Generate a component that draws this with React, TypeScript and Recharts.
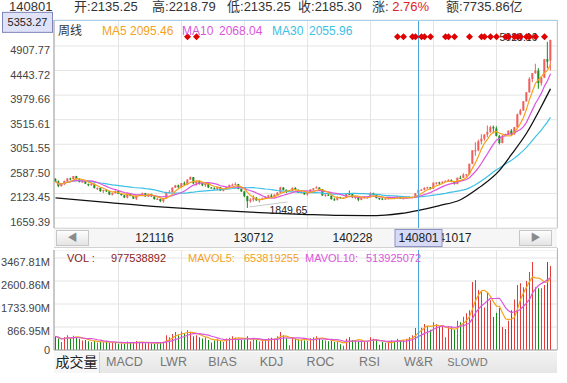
import React from "react";
import {
  ComposedChart,
  Bar,
  Line,
  XAxis,
  YAxis,
  CartesianGrid,
  ReferenceLine,
  ReferenceDot,
  Cell,
} from "recharts";

const FONT = "Arial, 'Liberation Sans', 'Noto Sans CJK SC', sans-serif";

// weekly bars, yymmdd
const dates = [
  "120323", "120330", "120406", "120413", "120420", "120427", "120504", "120511", "120518", "120525",
  "120601", "120608", "120615", "120621", "120629", "120706", "120713", "120720", "120727", "120803",
  "120810", "120817", "120824", "120831", "120907", "120914", "120921", "120928", "121012", "121019",
  "121026", "121102", "121109", "121116", "121123", "121130", "121207", "121214", "121221", "121228",
  "130104", "130111", "130118", "130125", "130201", "130208", "130222", "130301", "130308", "130315",
  "130322", "130329", "130403", "130412", "130419", "130426", "130503", "130510", "130517", "130524",
  "130531", "130607", "130614", "130621", "130628", "130705", "130712", "130719", "130726", "130802",
  "130809", "130816", "130823", "130830", "130906", "130913", "130918", "130927", "130930", "131011",
  "131018", "131025", "131101", "131108", "131115", "131122", "131129", "131206", "131213", "131220",
  "131227", "140103", "140110", "140117", "140124", "140130", "140207", "140214", "140221", "140228",
  "140307", "140314", "140321", "140328", "140404", "140411", "140418", "140425", "140430", "140509",
  "140516", "140523", "140530", "140606", "140613", "140620", "140627", "140704", "140711", "140718",
  "140725", "140801", "140808", "140815", "140822", "140829", "140905", "140912", "140919", "140926",
  "140930", "141010", "141017", "141024", "141031", "141107", "141114", "141121", "141128", "141205",
  "141212", "141219", "141226", "141231", "150109", "150116", "150123", "150130", "150206", "150213",
  "150217", "150227", "150306", "150313", "150320", "150327", "150403", "150410", "150417", "150424",
  "150430", "150508", "150515", "150522", "150529", "150605",
];

const opens = [
  2400, 2350, 2260, 2300, 2358, 2405, 2396, 2450, 2390, 2342,
  2350, 2300, 2280, 2305, 2222, 2226, 2165, 2184, 2165, 2100,
  2130, 2168, 2112, 2090, 2045, 2125, 2073, 2025, 2087, 2103,
  2127, 2066, 2115, 2068, 2012, 2018, 1978, 2032, 2150, 2150,
  2232, 2275, 2242, 2316, 2290, 2385, 2432, 2312, 2357, 2317,
  2278, 2327, 2235, 2223, 2205, 2244, 2176, 2205, 2245, 2281,
  2288, 2299, 2208, 2161, 2072, 1977, 2005, 2038, 1990, 2008,
  2028, 2051, 2083, 2056, 2096, 2138, 2235, 2190, 2160, 2173,
  2227, 2192, 2132, 2148, 2105, 2134, 2195, 2218, 2236, 2203,
  2083, 2100, 2082, 2012, 2003, 2053, 2033, 2043, 2114, 2112,
  2055, 2056, 2003, 2046, 2045, 2057, 2129, 2097, 2035, 2025,
  2010, 2025, 2033, 2038, 2028, 2069, 2023, 2035, 2058, 2046,
  2058, 2135.25, 2184, 2193, 2225, 2239, 2216, 2325, 2330, 2328,
  2346, 2363, 2373, 2340, 2301, 2419, 2417, 2477, 2486, 2682,
  2937, 2938, 3107, 3156, 3234, 3284, 3375, 3350, 3209, 3075,
  3203, 3246, 3309, 3241, 3372, 3616, 3690, 3863, 4033, 4286,
  4393, 4441, 4205, 4307, 4658, 4633,
];

const highs = [
  2410, 2370, 2310, 2365, 2410, 2422, 2453, 2456, 2400, 2370,
  2370, 2310, 2318, 2310, 2240, 2240, 2195, 2200, 2170, 2140,
  2180, 2175, 2120, 2095, 2140, 2130, 2080, 2090, 2112, 2140,
  2135, 2120, 2118, 2072, 2045, 2025, 2040, 2155, 2185, 2240,
  2285, 2290, 2320, 2350, 2390, 2444, 2435, 2370, 2370, 2325,
  2335, 2333, 2245, 2240, 2250, 2248, 2210, 2252, 2290, 2310,
  2334, 2305, 2215, 2165, 2080, 2035, 2092, 2058, 2025, 2045,
  2070, 2098, 2115, 2110, 2150, 2250, 2242, 2200, 2176, 2240,
  2242, 2198, 2163, 2155, 2140, 2205, 2225, 2260, 2240, 2205,
  2110, 2118, 2088, 2040, 2070, 2060, 2048, 2120, 2178, 2115,
  2075, 2068, 2050, 2070, 2062, 2146, 2138, 2100, 2040, 2035,
  2055, 2040, 2045, 2045, 2075, 2072, 2040, 2062, 2070, 2064,
  2130, 2218.79, 2210, 2240, 2248, 2242, 2330, 2335, 2345, 2350,
  2365, 2392, 2391, 2345, 2422, 2458, 2505, 2490, 2685, 2938,
  3091, 3139, 3239, 3240, 3406, 3400, 3406, 3390, 3229, 3230,
  3250, 3312, 3338, 3380, 3632, 3719, 3866, 4034, 4317, 4400,
  4572, 4489, 4330, 4658, 4986, 5023.1,
];

const lows = [
  2340, 2242, 2255, 2280, 2330, 2370, 2390, 2386, 2330, 2320,
  2300, 2260, 2270, 2220, 2186, 2150, 2132, 2150, 2092, 2086,
  2120, 2110, 2081, 2039, 2029, 2070, 2020, 2001, 2075, 2095,
  2060, 2055, 2060, 2010, 2003, 1959, 1949, 2025, 2130, 2140,
  2225, 2220, 2230, 2280, 2280, 2380, 2300, 2270, 2290, 2260,
  2245, 2225, 2220, 2196, 2181, 2170, 2162, 2200, 2240, 2270,
  2280, 2200, 2150, 2050, 1849.65, 1950, 1970, 1985, 1951, 2000,
  2020, 2045, 2050, 2040, 2090, 2130, 2180, 2132, 2150, 2170,
  2185, 2130, 2120, 2096, 2080, 2130, 2180, 2215, 2195, 2080,
  2060, 2075, 2010, 1985, 1990, 2025, 2030, 2040, 2105, 2035,
  2015, 1975, 1995, 2035, 2020, 2050, 2090, 2030, 2000, 1997,
  2005, 2010, 2020, 2015, 2025, 2020, 2010, 2030, 2040, 2035,
  2055, 2135.25, 2170, 2180, 2210, 2195, 2210, 2290, 2280, 2300,
  2340, 2350, 2335, 2290, 2295, 2395, 2415, 2430, 2480, 2675,
  2835, 2920, 3050, 3118, 3185, 3266, 3260, 3200, 3049, 3070,
  3195, 3225, 3213, 3230, 3365, 3600, 3680, 3855, 4025, 4225,
  4383, 4099, 4160, 4305, 4483, 4445,
];

const closes = [
  2349, 2262, 2302, 2359, 2406, 2396, 2452, 2394, 2344, 2350,
  2309, 2281, 2306, 2224, 2225, 2170, 2185, 2168, 2103, 2132,
  2168, 2115, 2092, 2047, 2127, 2075, 2026, 2086, 2104, 2128,
  2067, 2117, 2069, 2014, 2020, 1980, 2033, 2150, 2153, 2233,
  2276, 2243, 2317, 2291, 2385, 2433, 2314, 2359, 2318, 2278,
  2328, 2236, 2225, 2206, 2245, 2177, 2205, 2246, 2282, 2288,
  2300, 2210, 2162, 2073, 1979, 2007, 2039, 1992, 2010, 2029,
  2052, 2085, 2057, 2098, 2139, 2236, 2191, 2160, 2174, 2228,
  2193, 2133, 2149, 2106, 2135, 2196, 2220, 2237, 2204, 2084,
  2101, 2083, 2013, 2004, 2054, 2033, 2044, 2115, 2113, 2056,
  2057, 2004, 2047, 2046, 2058, 2130, 2098, 2036, 2026, 2011,
  2026, 2034, 2039, 2029, 2070, 2024, 2036, 2059, 2047, 2059,
  2126.6, 2185.3, 2194, 2226, 2240, 2217, 2326, 2331, 2329, 2347,
  2364, 2374, 2341, 2302, 2420, 2418, 2478, 2487, 2683, 2938,
  2938, 3108, 3157, 3235, 3285, 3376, 3351, 3210, 3076, 3204,
  3247, 3310, 3242, 3373, 3617, 3691, 3864, 4034, 4287, 4394,
  4442, 4206, 4308, 4658, 4611, 5023.1,
];

// volume, millions
const volumes = [
  520, 430, 300, 480, 560, 450, 540, 460, 420, 360,
  380, 330, 300, 340, 280, 310, 290, 320, 260, 280,
  300, 240, 250, 230, 320, 300, 260, 340, 270, 300,
  250, 270, 250, 240, 280, 300, 310, 560, 480, 600,
  680, 560, 700, 620, 740, 690, 520, 560, 480, 430,
  470, 380, 280, 360, 420, 340, 300, 430, 460, 520,
  470, 420, 380, 400, 520, 330, 420, 380, 320, 360,
  380, 440, 460, 420, 520, 680, 560, 440, 180, 480,
  420, 400, 380, 360, 340, 440, 480, 520, 420, 380,
  360, 330, 360, 300, 320, 220, 160, 420, 480, 380,
  360, 340, 300, 320, 330, 480, 420, 380, 200, 300,
  260, 280, 360, 330, 420, 380, 380, 420, 480, 560,
  830, 977.538892, 840, 980, 900, 760, 1050, 980, 880, 920,
  480, 900, 860, 760, 1100, 1050, 1250, 1390, 1500, 2560,
  2640, 2260, 2200, 1600, 2150, 1880, 1240, 1400, 1580, 870,
  790, 1100, 1500, 1900, 2450, 2520, 2370, 2600, 2940, 3320,
  2370, 2330, 2330, 2450, 3320, 3170,
];

// black fitted curve, read at a few bars
const trendIdx = [0, 18, 35, 48, 65, 84, 95, 104, 110, 115, 121, 128, 135, 141, 148, 152, 157, 163, 165];
const trendVal = [2040, 1950, 1870, 1822, 1770, 1725, 1708, 1705, 1715, 1745, 1805, 1895, 2005, 2225, 2560, 2860, 3260, 3880, 4100];

// red diamond signals
const signalIdx = [44, 47, 114, 116, 119, 120, 122, 123, 125, 130, 131, 133, 138, 142, 143, 145, 147, 150, 151, 153, 154, 155, 157, 158, 160, 163];
const signalLevel = 5080;

const priceTicks = [1659.39, 2123.45, 2587.5, 3051.55, 3515.61, 3979.66, 4443.72, 4907.77];
const priceTop = 5353.27;
const priceDomain = [1471, 5398];
const volTicks = [0, 866.95, 1733.9, 2600.86, 3467.81];
const volDomain = [0, 3770];
const gridIdx = [21, 42, 63, 84, 105, 126, 147];
const navTicks = ["121116", "130712", "140228", "141017", "140801"];
const tabs = ["成交量", "MACD", "LWR", "BIAS", "KDJ", "ROC", "RSI", "W&R", "SLOWD"];

const activeDate = "140801";
const activeIdx = dates.indexOf(activeDate);
const turnover = "7735.86亿";
const maLegend = ["2095.46", "2068.04", "2055.96"];
const volLegend = ["653819255", "513925072"];

const UP = "#ef5f5f";
const DOWN = "#1f8a1f";
const C_MA5 = "#f5a21b";
const C_MA10 = "#dc55dc";
const C_MA30 = "#3cc0e4";
const C_CROSS = "#4aa6d6";

function movingAvg(src: number[], n: number) {
  return src.map((_, i) => {
    const from = Math.max(0, i - n + 1);
    let s = 0;
    for (let k = from; k <= i; k++) s += src[k];
    return s / (i - from + 1);
  });
}

const ma5 = movingAvg(closes, 5);
const ma10 = movingAvg(closes, 10);
const ma30 = movingAvg(closes, 30);
const mavol5 = movingAvg(volumes, 5);
const mavol10 = movingAvg(volumes, 10);

const rows = dates.map((d, i) => {
  const t = trendIdx.indexOf(i);
  return {
    date: d,
    open: opens[i],
    high: highs[i],
    low: lows[i],
    close: closes[i],
    range: [lows[i], highs[i]],
    ma5: ma5[i],
    ma10: ma10[i],
    ma30: ma30[i],
    trend: t >= 0 ? trendVal[t] : null,
    sig: signalIdx.includes(i) ? signalLevel : null,
    vol: volumes[i],
    mavol5: mavol5[i],
    mavol10: mavol10[i],
  };
});

const gridDates = gridIdx.map((i) => dates[i]);

let minIdx = 0;
let maxIdx = 0;
lows.forEach((v, i) => { if (v < lows[minIdx]) minIdx = i; });
highs.forEach((v, i) => { if (v > highs[maxIdx]) maxIdx = i; });

function Candle(props: any) {
  const { x, y, width, height, payload } = props;
  if (!payload) return null;
  const { open, close, high, low } = payload;
  const top = Math.min(y, y + height);
  const h = Math.abs(height);
  const ratio = high > low ? h / (high - low) : 0;
  const cx = x + width / 2;
  const yO = top + (high - open) * ratio;
  const yC = top + (high - close) * ratio;
  const color = close >= open ? UP : DOWN;
  return (
    <g>
      <line x1={cx} x2={cx} y1={top} y2={top + h} stroke={color} strokeWidth={1} />
      <rect x={cx - 1} y={Math.min(yO, yC)} width={2} height={Math.max(1, Math.abs(yO - yC))} fill={color} />
    </g>
  );
}

function Diamond(props: any) {
  const { cx, cy, payload } = props;
  if (!payload || payload.sig == null || cx == null || cy == null || isNaN(cy)) return <g />;
  const r = 3.5;
  return <path d={`M${cx},${cy - r}L${cx + r},${cy}L${cx},${cy + r}L${cx - r},${cy}Z`} fill="#e00000" />;
}

function PriceTick(props: any) {
  const { x, y, payload } = props;
  const v = payload.value as number;
  if (v === priceTop) {
    return (
      <g>
        <rect x={2.5} y={y - 10} width={50} height={20} fill="#e0e2f7" stroke="#7f86b8" />
        <text x={27.5} y={y + 4} textAnchor="middle" fontSize={11} fill="#222" fontFamily={FONT}>
          {v.toFixed(2)}
        </text>
      </g>
    );
  }
  return (
    <text x={x} y={y + 8} textAnchor="end" fontSize={11} fill="#444" fontFamily={FONT}>
      {v.toFixed(2)}
    </text>
  );
}

function VolTick(props: any) {
  const { x, y, payload } = props;
  const v = payload.value as number;
  return (
    <text x={x} y={v === 0 ? y + 4 : y + 8} textAnchor="end" fontSize={11} fill="#444" fontFamily={FONT}>
      {v === 0 ? "0" : v.toFixed(2) + "M"}
    </text>
  );
}

function NavTick(props: any) {
  const { x, y, payload } = props;
  const v = String(payload.value);
  const on = v === activeDate;
  return (
    <g>
      {on && <rect x={x - 23.5} y={y + 1.5} width={47} height={17} fill="#d7daf6" stroke="#8e94c4" />}
      <text x={x} y={y + 14} textAnchor="middle" fontSize={12} fill="#222" fontFamily={FONT}>
        {v}
      </text>
    </g>
  );
}

const abs = (left: number, top: number, extra: React.CSSProperties = {}): React.CSSProperties => ({
  position: "absolute",
  left,
  top,
  whiteSpace: "nowrap",
  ...extra,
});

function Header() {
  const items = [
    { label: "开", value: opens[activeIdx].toFixed(2), left: 74 },
    { label: "高", value: highs[activeIdx].toFixed(2), left: 152 },
    { label: "低", value: lows[activeIdx].toFixed(2), left: 227 },
    { label: "收", value: closes[activeIdx].toFixed(2), left: 298 },
  ];
  const pct = ((closes[activeIdx] / closes[activeIdx - 1] - 1) * 100).toFixed(2) + "%";
  const s: React.CSSProperties = { fontSize: 13, lineHeight: "16px", color: "#333" };
  return (
    <>
      <div style={abs(9, -1, s)}>{activeDate}</div>
      {items.map((it) => (
        <div key={it.label} style={abs(it.left, -1, s)}>
          {it.label}:{it.value}
        </div>
      ))}
      <div style={abs(372, -1, s)}>
        涨: <span style={{ color: "#e02424" }}>{pct}</span>
      </div>
      <div style={abs(446, -1, s)}>额:{turnover}</div>
    </>
  );
}

export default function App() {
  const legendStyle: React.CSSProperties = { fontSize: 12, lineHeight: "14px" };
  const volStyle: React.CSSProperties = { fontSize: 11, lineHeight: "13px" };
  return (
    <div
      style={{
        position: "absolute",
        left: 0,
        top: 0,
        width: 567,
        height: 383,
        overflow: "hidden",
        background: "#fff",
        fontFamily: FONT,
      }}
    >
      <Header />

      {/* scrollbar strip */}
      <div
        style={abs(54, 228, {
          width: 503,
          height: 18,
          background: "#f6f6f6",
          borderTop: "1px solid #d2d2d2",
          borderBottom: "1px solid #d2d2d2",
        })}
      />
      {[56, 519].map((l, k) => (
        <div
          key={l}
          style={abs(l, 230, {
            width: 31,
            height: 14,
            background: "linear-gradient(#fdfdfd, #e4e4e4)",
            border: "1px solid #c6c6c6",
            color: "#8a8a8a",
            fontSize: 10,
            lineHeight: "14px",
            textAlign: "center",
          })}
        >
          {k === 0 ? "◀" : "▶"}
        </div>
      ))}

      <div style={abs(0, 0)}>
        <ComposedChart
          width={567}
          height={250}
          data={rows}
          margin={{ top: 20, right: 10, bottom: 0, left: 0 }}
          barCategoryGap={0}
        >
          <CartesianGrid stroke="#e4e4e4" xAxisId="grid" yAxisId="grid" />
          <XAxis
            xAxisId="grid"
            dataKey="date"
            hide
            padding={{ left: 0, right: 5 }}
            ticks={gridDates}
            interval={0}
          />
          <YAxis yAxisId="grid" hide domain={priceDomain} allowDataOverflow ticks={priceTicks} interval={0} />
          <XAxis
            dataKey="date"
            padding={{ left: 0, right: 5 }}
            ticks={navTicks}
            interval={0}
            height={22}
            tickSize={0}
            tickMargin={0}
            axisLine={false}
            tickLine={false}
            tick={<NavTick />}
          />
          <YAxis
            width={54}
            domain={priceDomain}
            allowDataOverflow
            ticks={[...priceTicks, priceTop]}
            interval={0}
            tick={<PriceTick />}
            tickSize={0}
            tickMargin={4}
            tickLine={false}
            axisLine={{ stroke: "#a0a0a0" }}
          />
          <Bar dataKey="range" barSize={3} shape={<Candle />} isAnimationActive={false} />
          <Line dataKey="ma30" stroke={C_MA30} strokeWidth={1.2} dot={false} isAnimationActive={false} />
          <Line dataKey="ma10" stroke={C_MA10} strokeWidth={1.2} dot={false} isAnimationActive={false} />
          <Line dataKey="ma5" stroke={C_MA5} strokeWidth={1.2} dot={false} isAnimationActive={false} />
          <Line
            dataKey="trend"
            type="monotone"
            connectNulls
            stroke="#111"
            strokeWidth={1.3}
            dot={false}
            isAnimationActive={false}
          />
          <ReferenceLine x={activeDate} stroke={C_CROSS} strokeWidth={1} />
          <ReferenceDot
            x={dates[minIdx]}
            y={lows[minIdx]}
            r={1}
            shape={(p: any) => (
              <g>
                <line x1={p.cx + 2} y1={p.cy - 1} x2={p.cx + 40} y2={p.cy - 6} stroke="#c8c8c8" />
                <text x={p.cx + 22} y={p.cy + 6} fontSize={10.5} fill="#222" fontFamily={FONT}>
                  {lows[minIdx].toFixed(2)}
                </text>
              </g>
            )}
          />
          <ReferenceDot
            x={dates[maxIdx]}
            y={highs[maxIdx]}
            r={1}
            shape={(p: any) => (
              <text x={p.cx - 13} y={p.cy + 1} textAnchor="end" fontSize={10.5} fill="#222" fontFamily={FONT}>
                {highs[maxIdx].toFixed(2)}
              </text>
            )}
          />
          <Line
            dataKey="sig"
            stroke="none"
            dot={<Diamond />}
            activeDot={false}
            legendType="none"
            isAnimationActive={false}
          />
        </ComposedChart>
      </div>

      {/* main frame top / right */}
      <div style={abs(54, 20, { width: 503, height: 1, background: "#a6d2e8" })} />
      <div style={abs(557, 20, { width: 1, height: 208, background: "#a6d2e8" })} />

      {/* main legend */}
      <div style={abs(58, 24, { ...legendStyle, color: "#333" })}>周线</div>
      <div style={abs(102, 24, { ...legendStyle, color: C_MA5 })}>MA5</div>
      <div style={abs(130, 24, { ...legendStyle, color: C_MA5 })}>{maLegend[0]}</div>
      <div style={abs(182, 24, { ...legendStyle, color: C_MA10 })}>MA10</div>
      <div style={abs(219, 24, { ...legendStyle, color: C_MA10 })}>{maLegend[1]}</div>
      <div style={abs(272, 24, { ...legendStyle, color: C_MA30 })}>MA30</div>
      <div style={abs(309, 24, { ...legendStyle, color: C_MA30 })}>{maLegend[2]}</div>

      <div style={abs(0, 250)}>
        <ComposedChart
          width={567}
          height={106}
          data={rows}
          margin={{ top: 0, right: 10, bottom: 5, left: 0 }}
          barCategoryGap={0}
        >
          <CartesianGrid stroke="#e4e4e4" xAxisId="grid" yAxisId="grid" />
          <XAxis
            xAxisId="grid"
            dataKey="date"
            hide
            padding={{ left: 0, right: 5 }}
            ticks={gridDates}
            interval={0}
          />
          <YAxis
            yAxisId="grid"
            hide
            domain={volDomain}
            allowDataOverflow
            ticks={volTicks.filter((v) => v > 0)}
            interval={0}
          />
          <XAxis
            dataKey="date"
            padding={{ left: 0, right: 5 }}
            height={1}
            tick={false}
            tickLine={false}
            axisLine={{ stroke: "#a0a0a0" }}
          />
          <YAxis
            width={54}
            domain={volDomain}
            allowDataOverflow
            ticks={volTicks}
            interval={0}
            tick={<VolTick />}
            tickSize={0}
            tickMargin={4}
            tickLine={false}
            axisLine={{ stroke: "#a0a0a0" }}
          />
          <Bar dataKey="vol" barSize={1} isAnimationActive={false}>
            {rows.map((r) => (
              <Cell key={r.date} fill={r.close >= r.open ? "#e23c3c" : "#138a13"} />
            ))}
          </Bar>
          <Line dataKey="mavol5" stroke={C_MA5} strokeWidth={1.2} dot={false} isAnimationActive={false} />
          <Line dataKey="mavol10" stroke={C_MA10} strokeWidth={1.2} dot={false} isAnimationActive={false} />
          <ReferenceLine x={activeDate} stroke={C_CROSS} strokeWidth={1} />
        </ComposedChart>
      </div>
      <div style={abs(557, 248, { width: 1, height: 102, background: "#b8b8b8" })} />

      {/* volume legend */}
      <div style={abs(67, 252, { ...volStyle, color: "#8b1c1c" })}>VOL :</div>
      <div style={abs(111, 252, { ...volStyle, color: "#8b1c1c" })}>
        {Math.round(volumes[activeIdx] * 1e6)}
      </div>
      <div style={abs(188, 252, { ...volStyle, color: C_MA5 })}>MAVOL5:</div>
      <div style={abs(244, 252, { ...volStyle, color: C_MA5 })}>{volLegend[0]}</div>
      <div style={abs(305, 252, { ...volStyle, color: C_MA10 })}>MAVOL10:</div>
      <div style={abs(366, 252, { ...volStyle, color: C_MA10 })}>{volLegend[1]}</div>

      {/* indicator tabs */}
      <div
        style={abs(54, 352, {
          width: 503,
          height: 21,
          background: "linear-gradient(#f2f2f2, #e6e6e6)",
          display: "flex",
        })}
      >
        {tabs.map((t, i) => (
          <div
            key={t}
            style={{
              width: i === 0 ? 46 : 49,
              height: 21,
              lineHeight: "21px",
              textAlign: "center",
              fontSize: i === 0 ? 14 : t === "SLOWD" ? 11 : 12.5,
              color: i === 0 ? "#222" : "#777",
              background: i === 0 ? "#f7f7f7" : "transparent",
              borderRight: i === 0 ? "1px solid #d0d0d0" : "none",
              boxSizing: "border-box",
            }}
          >
            {t}
          </div>
        ))}
      </div>
    </div>
  );
}
